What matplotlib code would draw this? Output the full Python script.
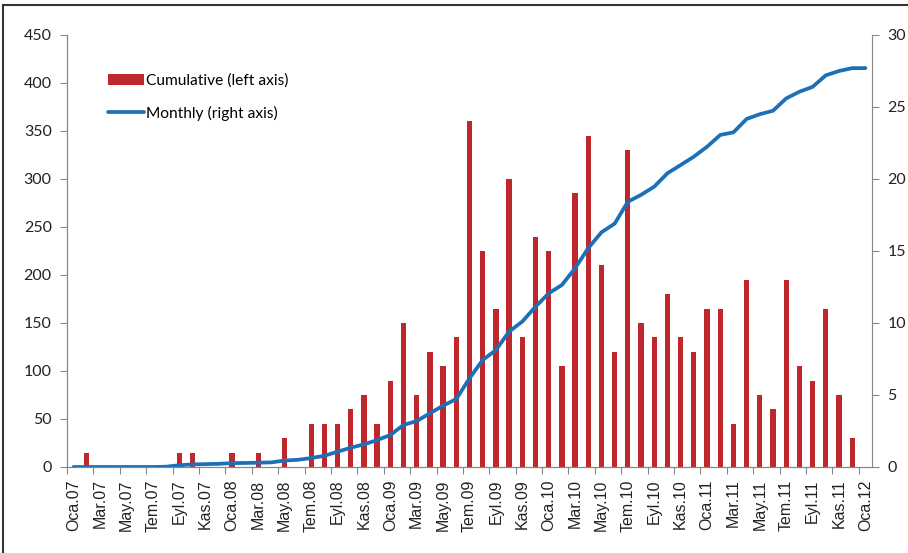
import numpy as np
import matplotlib
matplotlib.use("Agg")
import matplotlib.pyplot as plt
from matplotlib.patches import Rectangle

# month names (Turkish) and years shown on the category axis
months = ["Oca", "Şub", "Mar", "Nis", "May", "Haz", "Tem", "Ağu", "Eyl", "Eki", "Kas", "Ara"]
years = ["07", "08", "09", "10", "11", "12"]

# bars, left axis (Oca.07 .. Oca.12)
cumulative = [0, 15, 0, 0, 0, 0, 0, 0, 15, 15, 0, 0,
              15, 0, 15, 0, 30, 0, 45, 45, 45, 60, 75, 45,
              90, 150, 75, 120, 105, 135, 360, 225, 165, 300, 135, 240,
              225, 105, 285, 345, 210, 120, 330, 150, 135, 180, 135, 120,
              165, 165, 45, 195, 75, 60, 195, 105, 90, 165, 75, 30,
              0]

# line, right axis
monthly = [0, 0, 0, 0, 0, 0, 0, 0.02, 0.12, 0.18, 0.2, 0.22,
           0.27, 0.28, 0.3, 0.32, 0.45, 0.5, 0.62, 0.78, 1.06, 1.34, 1.57, 1.87,
           2.22, 2.92, 3.19, 3.73, 4.26, 4.72, 6.16, 7.43, 8.12, 9.4, 10.1, 11.13,
           12.06, 12.64, 13.8, 15.2, 16.3, 16.9, 18.42, 18.9, 19.47, 20.4, 20.97, 21.55,
           22.24, 23.06, 23.24, 24.17, 24.5, 24.74, 25.6, 26.06, 26.4, 27.2, 27.5, 27.7,
           27.7]

labels = [m + "." + y for y in years for m in months][:len(cumulative)]
x = np.arange(len(cumulative))

axis_grey = "#868686"
bar_red = "#C0272D"
line_blue = "#1B70B8"

fig = plt.figure(figsize=(9.08, 5.53), dpi=100)
fig.patches.append(Rectangle((3 / 908, -0.05), 1.2, 1 - 5 / 553 + 0.05, transform=fig.transFigure,
                             fill=False, edgecolor="#333333", linewidth=1.5))

ax1 = fig.add_axes([67 / 908, 1 - 467 / 553, (872 - 67) / 908, (467 - 35) / 553])
ax1.bar(x, cumulative, width=0.4, color=bar_red, label="Cumulative (left axis)", zorder=2)
ax1.set_ylim(0, 450)
ax1.set_yticks(np.arange(0, 451, 50))
ax1.set_xlim(-0.5, len(x) - 0.5)

# tick marks between categories, labels on every other month
ax1.set_xticks(np.arange(-0.5, len(x) - 1, 2))
ax1.set_xticklabels([])
ax1.set_xticks(x[::2], minor=True)
ax1.set_xticklabels(labels[::2], minor=True, rotation=90, fontsize=11.5,
                    family="Liberation Sans", color="#222222")
ax1.tick_params(axis="x", which="major", length=5, color=axis_grey, direction="out")
ax1.tick_params(axis="x", which="minor", length=0, pad=9)
ax1.tick_params(axis="y", length=5, color=axis_grey, labelsize=11.5, labelcolor="#222222", pad=6)
for lab in ax1.get_yticklabels():
    lab.set_family("Lato")

ax2 = ax1.twinx()
ax2.plot(x, monthly, color=line_blue, linewidth=2.7, label="Monthly (right axis)",
         solid_capstyle="round")
ax2.set_ylim(0, 30)
ax2.set_yticks(np.arange(0, 31, 5))
ax2.tick_params(axis="y", length=5, color=axis_grey, labelsize=11.5, labelcolor="#222222", pad=6)
for lab in ax2.get_yticklabels():
    lab.set_family("Lato")

for ax in (ax1, ax2):
    ax.spines["top"].set_visible(False)
    for s in ("left", "right", "bottom"):
        ax.spines[s].set_color(axis_grey)
ax1.spines["right"].set_visible(False)

h1, l1 = ax1.get_legend_handles_labels()
h2, l2 = ax2.get_legend_handles_labels()
fig.legend(h1 + h2, l1 + l2, loc="upper left", bbox_to_anchor=(102 / 908, 1 - 67 / 553),
           frameon=False, prop={"family": "Lato", "size": 11.2}, handlelength=2.3,
           handletextpad=0.1, labelspacing=1.15, borderaxespad=0)

fig.savefig("out.png", dpi=100)
